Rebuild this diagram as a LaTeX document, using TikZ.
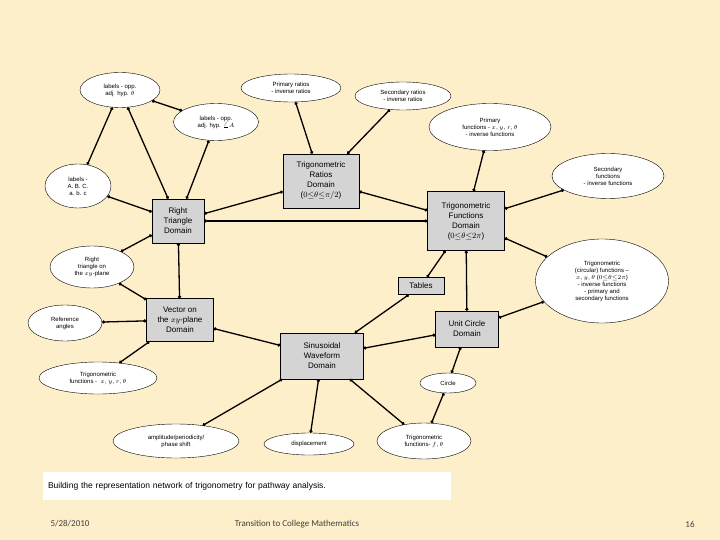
\documentclass[tikz,border=0pt]{standalone}
\usepackage{fontspec}
\setmainfont{Liberation Sans}
\newfontfamily\footfont{Carlito}
\usetikzlibrary{shapes.geometric,arrows.meta}
\definecolor{paper}{HTML}{FDEFC9}
\definecolor{boxgray}{HTML}{D4D4D4}

\begin{document}
\begin{tikzpicture}[x=1pt,y=-1pt,
  ov/.style={ellipse,draw,fill=white,inner sep=0pt,align=center,font=\fontsize{6}{7}\selectfont},
  dom/.style={rectangle,draw,fill=boxgray,inner sep=1pt,align=center,font=\fontsize{8}{10}\selectfont},
  link/.style={line width=1.3pt,{Circle[length=3pt]}-{Circle[length=3pt]}}]
  \fill[paper] (0,0) rectangle (720,540);
  \useasboundingbox (0,0) rectangle (720,540);
  % domains
  \node[dom,minimum width=76,minimum height=54] (ratio) at (321,181) {Trigonometric\\Ratios\\Domain\\($0{\leq}\theta{\leq}\pi/2$)};
  \node[dom,minimum width=52,minimum height=44] (right) at (178,221) {Right\\Triangle\\Domain};
  \node[dom,minimum width=77,minimum height=59] (func) at (466,221) {Trigonometric\\Functions\\Domain\\($0{\leq}\theta{\leq}2\pi$)};
  \node[dom,minimum width=46,minimum height=17] (tables) at (421,286) {Tables};
  \node[dom,minimum width=67,minimum height=43] (vector) at (180,320) {Vector on\\the $xy$-plane\\Domain};
  \node[dom,minimum width=63,minimum height=36] (unit) at (467,329) {Unit Circle\\Domain};
  \node[dom,minimum width=83,minimum height=46] (sine) at (322,356) {Sinusoidal\\Waveform\\Domain};
  % ovals
  \node[ov,minimum width=80,minimum height=35] (opp) at (120,90) {labels - opp.\\adj. hyp. $\theta$};
  \node[ov,minimum width=100,minimum height=28] (pratio) at (291,88) {Primary ratios\\- inverse ratios};
  \node[ov,minimum width=96,minimum height=28] (sratio) at (403,96) {Secondary ratios\\- inverse ratios};
  \node[ov,minimum width=85,minimum height=37] (oppA) at (216,122) {labels - opp.\\adj. hyp. $\angle A$};
  \node[ov,minimum width=122,minimum height=47] (pfunc) at (490,127) {Primary\\functions - $x, y, r, \theta$\\- inverse functions};
  \node[ov,minimum width=112,minimum height=45] (sfunc) at (608,176) {Secondary\\functions\\- inverse functions};
  \node[ov,minimum width=66,minimum height=44] (abc) at (78,186) {labels -\\A. B. C.\\a. b. c};
  \node[ov,minimum width=84,minimum height=42] (xyplane) at (92,267) {Right\\triangle on\\the $xy$-plane};
  \node[ov,minimum width=133,minimum height=84] (circ) at (602,281) {Trigonometric\\(circular) functions --\\$x, y, \theta$ ($0{\leq}\theta{\leq}2\pi$)\\- inverse functions\\- primary and\\secondary functions};
  \node[ov,minimum width=74,minimum height=36] (ref) at (65,323) {Reference\\angles};
  \node[ov,minimum width=118,minimum height=32] (xyr) at (98,378) {Trigonometric\\functions - \ $x, y, r, \theta$};
  \node[ov,minimum width=56,minimum height=20] (circle) at (448,383) {Circle};
  \node[ov,minimum width=126,minimum height=34] (amp) at (176,441) {amplitude/periodicity/\\phase shift};
  \node[ov,minimum width=90,minimum height=22] (disp) at (309,444) {displacement};
  \node[ov,minimum width=94,minimum height=36] (ftheta) at (424,441) {Trigonometric\\functions- $f, \theta$};
  % links
  \foreach \a/\b in {opp/oppA,opp/abc,opp/right,oppA/right,abc/right,right/ratio,right/func,
    right/xyplane,right/vector,pratio/ratio,sratio/ratio,ratio/func,pfunc/func,sfunc/func,
    func/circ,func/tables,func/unit,vector/xyplane,vector/ref,vector/xyr,vector/sine,
    sine/tables,sine/unit,sine/amp,sine/disp,sine/ftheta,unit/circle,circle/ftheta,unit/circ}
    \draw[link] (\a) -- (\b);
  % caption and footer
  \node[fill=white,minimum width=408,minimum height=28,text width=398,align=left,
    font=\fontsize{8.5}{10}\selectfont] (cap) at (247,486) {Building the representation network of trigonometry for pathway analysis.};
  \node[font=\footfont\fontsize{9}{10}\selectfont,text=black!75] (date) at (70,524) {5/28/2010};
  \node[font=\footfont\fontsize{9}{10}\selectfont,text=black!75] (title) at (297,524) {Transition to College Mathematics};
  \node[font=\footfont\fontsize{9}{10}\selectfont,text=black!75] (page) at (690,524) {16};
\end{tikzpicture}
\end{document}
